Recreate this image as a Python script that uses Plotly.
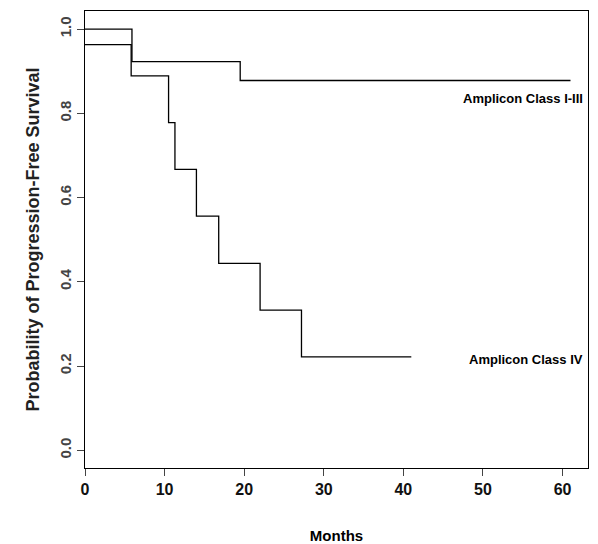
import plotly.graph_objs as go

# Kaplan-Meier steps
months_1 = [0, 5.9, 19.5, 61]
surv_1 = [1.0, 0.923, 0.878, 0.878]

months_4 = [0, 5.8, 10.5, 11.3, 14.0, 16.8, 22.0, 27.2, 41]
surv_4 = [0.963, 0.889, 0.778, 0.667, 0.556, 0.444, 0.333, 0.222, 0.222]

x_ticks = [0, 10, 20, 30, 40, 50, 60]
y_ticks = [0.0, 0.2, 0.4, 0.6, 0.8, 1.0]

line = dict(color="black", width=1.3, shape="hv")
fig = go.Figure()
fig.add_trace(go.Scatter(x=months_1, y=surv_1, mode="lines", line=line))
fig.add_trace(go.Scatter(x=months_4, y=surv_4, mode="lines", line=line))

lbl = dict(family="Liberation Sans Narrow, Arial", size=13, color="black")
fig.add_annotation(x=0.995, xref="paper", y=0.835, xanchor="right", yanchor="middle",
                   showarrow=False, text="<b>Amplicon Class I-III</b>", font=lbl)
fig.add_annotation(x=0.995, xref="paper", y=0.215, xanchor="right", yanchor="middle",
                   showarrow=False, text="<b>Amplicon Class IV</b>", font=lbl)

# page body has an 8px margin, so the figure is a bit smaller than the window
fig.update_layout(
    width=582, height=536,
    margin=dict(l=77, r=2, t=3, b=76),
    plot_bgcolor="white", paper_bgcolor="white",
    showlegend=False,
    xaxis=dict(range=[0, 63.2], tickvals=x_ticks, ticktext=[f"<b>{v}</b>" for v in x_ticks],
               ticks="outside", ticklen=7, tickwidth=1.3, automargin=False,
               showgrid=False, zeroline=False, showline=True, mirror=True,
               linecolor="black", linewidth=1.3,
               tickfont=dict(family="Arial", size=16, color="#111"),
               title=dict(text="<b>Months</b>", standoff=40,
                          font=dict(family="Liberation Sans Narrow, Arial", size=15, color="black"))),
    yaxis=dict(range=[-0.042, 1.043], tickvals=y_ticks,
               ticktext=[f"<b>{v:.1f}</b>" for v in y_ticks],
               ticks="outside", ticklen=7, tickwidth=1.3, tickangle=-90, automargin=False,
               showgrid=False, zeroline=False, showline=True, mirror=True,
               linecolor="black", linewidth=1.3,
               tickfont=dict(family="Arial", size=15, color="#444"),
               title=dict(text="<b>Probability of Progression-Free Survival</b>", standoff=12,
                          font=dict(family="Arial", size=18, color="#222"))),
)

fig.write_html("out.html")
